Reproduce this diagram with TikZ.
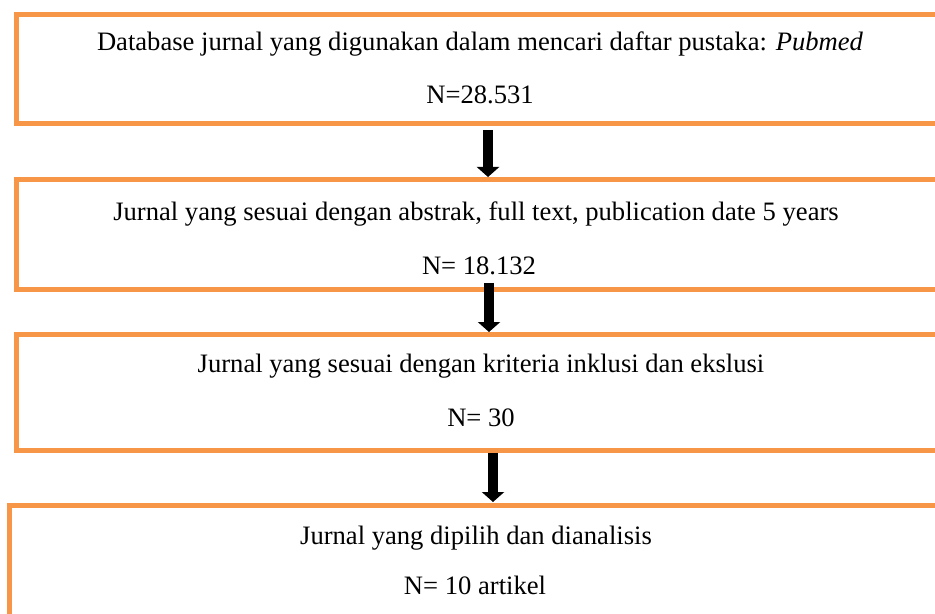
\documentclass[tikz,border=0pt]{standalone}
\usepackage{fontspec}
\setmainfont{Liberation Serif}
\usetikzlibrary{arrows.meta}
\definecolor{boxorange}{RGB}{247,150,70}
\tikzset{
  flowbox/.style={draw=boxorange, line width=2.5pt},
  flowtext/.style={anchor=base, inner sep=0pt, font=\fontsize{13.3pt}{16pt}\selectfont},
  flowarrow/.style={line width=5pt, -{Triangle[width=11pt,length=5pt]}}
}

\begin{document}
\begin{tikzpicture}[x=0.5pt, y=-0.5pt]
			%%%%% START %%%%%
			\useasboundingbox (0, 0) rectangle (935, 614);
			
			\draw[flowbox] (1000, 14.5) -- (16, 14.5) -- (16, 123.5) -- (1000, 123.5);
			\draw[flowbox] (1000, 179.5) -- (16, 179.5) -- (16, 289.5) -- (1000, 289.5);
			\draw[flowbox] (1000, 334.5) -- (16, 334.5) -- (16, 450.5) -- (1000, 450.5);
			\draw[flowbox] (1000, 505.5) -- (9.5, 505.5) -- (9.5, 700);
			
			\node[flowtext] (db) at (480, 51) {Database jurnal yang digunakan dalam mencari daftar pustaka: \textit{Pubmed}};
			\node[flowtext] (dbn) at (480, 104) {N=28.531};
			
			\node[flowtext] (abs) at (476, 221) {Jurnal yang sesuai dengan abstrak, full text, publication date 5 years};
			\node[flowtext] (absn) at (479, 275) {N= 18.132};
			
			\node[flowtext] (krit) at (481, 372) {Jurnal yang sesuai dengan kriteria inklusi dan ekslusi};
			\node[flowtext] (kritn) at (481, 426) {N= 30};
			
			\node[flowtext] (pilih) at (476, 544) {Jurnal yang dipilih dan dianalisis};
			\node[flowtext] (pilihn) at (475, 594) {N= 10 artikel};
			
			\coordinate (a1s) at (488, 130);
			\coordinate (a1e) at (488, 177);
			\coordinate (a2s) at (489, 283);
			\coordinate (a2e) at (489, 332);
			\coordinate (a3s) at (493, 453);
			\coordinate (a3e) at (493, 502);
			
			\draw[flowarrow] (a1s) -- (a1e);
			\draw[flowarrow] (a2s) -- (a2e);
			\draw[flowarrow] (a3s) -- (a3e);
			%%%%% END %%%%%
		\end{tikzpicture}
\end{document}
